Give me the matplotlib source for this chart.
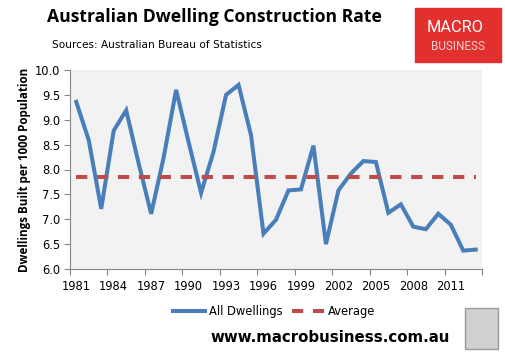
import matplotlib
matplotlib.use("Agg")
from matplotlib import pyplot as plt
from matplotlib.patches import Rectangle

# Data
years = list(range(1981, 2014))
dwellings = [9.36, 8.59, 7.21, 8.78, 9.19, 8.12, 7.11, 8.24, 9.60, 8.55,
             7.53, 8.36, 9.50, 9.70, 8.69, 6.71, 6.99, 7.58, 7.60, 8.48,
             6.50, 7.58, 7.92, 8.17, 8.15, 7.13, 7.30, 6.85, 6.80, 7.11,
             6.89, 6.37, 6.39]
average = 7.84
label_years = list(range(1981, 2012, 3))
y_ticks = [6.0, 6.5, 7.0, 7.5, 8.0, 8.5, 9.0, 9.5, 10.0]

BLUE = "#4A7EBB"
RED = "#BE4B48"


def main() -> int:
    fig = plt.figure(figsize=(5.05, 3.56), dpi=100)
    ax = fig.add_axes([70 / 505, 1 - 269 / 356, 412 / 505, 199 / 356])
    ax.set_facecolor("#F2F2F2")

    ax.plot(years, dwellings, color=BLUE, lw=2.9, solid_joinstyle="miter",
            label="All Dwellings")
    ax.plot([years[0], years[-1]], [average, average], color=RED, lw=2.9,
            dashes=(2.8, 2.4), dash_capstyle="butt", label="Average")

    ax.set_xlim(years[0] - 0.5, years[-1] + 0.5)
    ax.set_ylim(6.0, 10.0)
    ax.set_yticks(y_ticks)
    ax.set_yticklabels([f"{v:.1f}" for v in y_ticks], fontsize=8.3,
                       family="DejaVu Sans")

    # ticks between categories, labels at category centres
    ax.set_xticks([y - 0.5 for y in range(1981, 2015, 3)])
    ax.set_xticklabels([])
    ax.set_xticks(label_years, minor=True)
    ax.set_xticklabels([str(y) for y in label_years], minor=True,
                       fontsize=8.3, family="DejaVu Sans")
    ax.tick_params(axis="x", which="minor", length=0, pad=8)
    ax.tick_params(axis="both", which="major", length=4, color="#868686",
                   width=0.8)
    ax.tick_params(axis="y", pad=3)

    for s in ["top", "right"]:
        ax.spines[s].set_visible(False)
    for s in ["left", "bottom"]:
        ax.spines[s].set_color("#868686")
        ax.spines[s].set_linewidth(0.8)

    ax.set_ylabel("Dwellings Built per 1000 Population", fontsize=8.4,
                  fontweight="bold", family="Open Sans", labelpad=3)

    ax.legend(loc="center", bbox_to_anchor=(274 / 505, 1 - 312 / 356),
              bbox_transform=fig.transFigure, ncol=2, frameon=False,
              prop={"family": "DejaVu Sans", "size": 8.3},
              handlelength=2.8, columnspacing=0.8, handletextpad=0.3)

    fig.text(47 / 505, 1 - 17 / 356, "Australian Dwelling Construction Rate",
             fontsize=12.6, fontweight="bold", family="Open Sans",
             va="center", ha="left")
    fig.text(52 / 505, 1 - 45 / 356, "Sources: Australian Bureau of Statistics",
             fontsize=7.6, family="DejaVu Sans", va="center", ha="left")
    fig.text(450 / 505, 1 - 338 / 356, "www.macrobusiness.com.au",
             fontsize=10.8, fontweight="bold", family="DejaVu Sans",
             va="center", ha="right")

    # logo box
    fig.patches.append(Rectangle((415 / 505, 1 - 62 / 356), 86 / 505, 54 / 356,
                                 transform=fig.transFigure, color="#E2302F"))
    fig.text(455 / 505, 1 - 27 / 356, "MACRO", color="white", fontsize=11.8,
             family="Roboto", ha="center", va="center")
    fig.text(458 / 505, 1 - 46 / 356, "BUSINESS", color="#F6D0D0",
             fontsize=8.5, family="Roboto", ha="center", va="center")

    # fox picture placeholder
    fig.patches.append(Rectangle((465 / 505, 1 - 349 / 356), 33 / 505, 41 / 356,
                                 transform=fig.transFigure, facecolor="#D0D0D0",
                                 edgecolor="#9A9A9A", lw=1))

    fig.savefig("out.png", dpi=100)
    plt.close(fig)
    return 0


if __name__ == "__main__":
    raise SystemExit(main())
